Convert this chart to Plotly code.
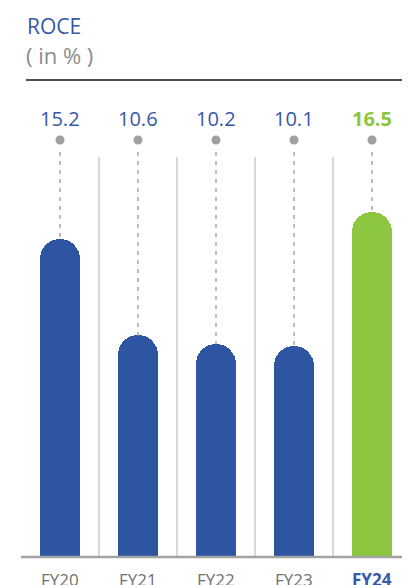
import plotly.graph_objects as go

categories = ["FY20", "FY21", "FY22", "FY23", "FY24"]
roce = [15.2, 10.6, 10.2, 10.1, 16.5]
bar_colors = ["#2D55A2", "#2D55A2", "#2D55A2", "#2D55A2", "#8DC63F"]
label_colors = ["#3558A8", "#3558A8", "#3558A8", "#3558A8", "#8DC63F"]

OFF = 8  # page body margin
W, H = 410 - OFF, 585 - OFF
FONT = "Open Sans"

def fx(px):
    return px - OFF

x_idx = list(range(len(categories)))
c0, step = fx(60), 78
x_range = [-c0 / step, (W - c0) / step]
y_zero_px = fx(557)
px_per_unit = 20.9
y_range = [-(H - y_zero_px) / px_per_unit, y_zero_px / px_per_unit]

def yval(py):
    return (y_zero_px - fx(py)) / px_per_unit

def px_x(p):
    return fx(p) / W

def px_y(p):
    return 1 - fx(p) / H

fig = go.Figure()

for i in range(len(categories) - 1):
    fig.add_trace(go.Scatter(x=[i + 0.5, i + 0.5], y=[yval(157), 0], mode="lines",
                             line=dict(color="#CBCBCB", width=1.5), hoverinfo="skip", showlegend=False))

for i, v in enumerate(roce):
    fig.add_trace(go.Scatter(x=[i, i], y=[yval(152), v], mode="lines",
                             line=dict(color="#B5B5B5", width=1.8, dash="4px,5px"),
                             hoverinfo="skip", showlegend=False))

fig.add_trace(go.Scatter(x=x_idx, y=[yval(140)] * len(categories), mode="markers",
                         marker=dict(color="#A0A0A0", size=9), hoverinfo="skip", showlegend=False))

fig.add_trace(go.Bar(x=x_idx, y=roce, width=40 / step,
                     marker=dict(color=bar_colors, cornerradius="50%", line=dict(width=0)),
                     showlegend=False, hoverinfo="skip"))

for i, v in enumerate(roce):
    fig.add_annotation(x=i, y=yval(118), text=f"{v:.1f}" if i < 4 else f"<b>{v:.1f}</b>", showarrow=False,
                       font=dict(family=FONT, size=20, color=label_colors[i]), xanchor="center", yanchor="middle")

for i, c in enumerate(categories):
    txt = c if i < 4 else f"<b>{c}</b>"
    col = "#707070" if i < 4 else "#3558A8"
    fig.add_annotation(x=i, y=yval(579), text=txt, showarrow=False,
                       font=dict(family=FONT, size=17, color=col), xanchor="center", yanchor="middle")

fig.add_annotation(xref="paper", yref="paper", x=px_x(25), y=px_y(26), text="ROCE", showarrow=False,
                   font=dict(family=FONT, size=21, color="#3558A8"), xanchor="left", yanchor="middle")
fig.add_annotation(xref="paper", yref="paper", x=px_x(24), y=px_y(55), text="( in % )", showarrow=False,
                   font=dict(family=FONT, size=22, color="#8C8C8C"), xanchor="left", yanchor="middle")

shapes = [
    dict(type="line", xref="paper", yref="paper", x0=px_x(26), x1=1, y0=px_y(80), y1=px_y(80),
         line=dict(color="#111111", width=1.5)),
    dict(type="line", xref="paper", yref="paper", x0=px_x(21), x1=1, y0=px_y(557), y1=px_y(557),
         line=dict(color="#A3A3A3", width=2.5)),
]

fig.update_layout(
    width=W, height=H, margin=dict(l=0, r=0, t=0, b=0),
    paper_bgcolor="white", plot_bgcolor="white",
    xaxis=dict(range=x_range, visible=False, fixedrange=True),
    yaxis=dict(range=y_range, visible=False, fixedrange=True),
    shapes=shapes, bargap=0,
)

fig.write_html("out.html")
